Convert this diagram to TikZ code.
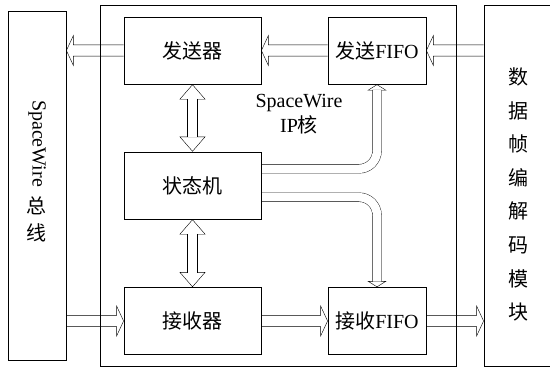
\documentclass[tikz,border=0pt]{standalone}
\usepackage{fontspec}
\setmainfont{Liberation Serif}
\newfontfamily\cjk{Noto Sans CJK SC}
\usetikzlibrary{arrows.meta, calc, backgrounds}

\tikzset{
  box/.style={draw, inner sep=0pt},
  blk/.style={box, minimum width=137pt, minimum height=67pt},
  fifo/.style={box, minimum width=98pt, minimum height=67pt},
  flat/.style={to path={
    let \p1=(\tikztostart), \p2=(\tikztotarget), \n1={sign(\x2-\x1)} in
    (\x1,{\y1+5.6pt}) -- ({\x2-\n1*7pt},{\y1+5.6pt}) -- ({\x2-\n1*7pt},{\y1+15pt})
    -- (\x2,\y1) -- ({\x2-\n1*7pt},{\y1-15pt}) -- ({\x2-\n1*7pt},{\y1-5.6pt}) -- (\x1,{\y1-5.6pt})}},
  tall/.style={{Triangle[length=15pt, width=26pt, fill=white]}-{Triangle[length=15pt, width=26pt, fill=white]}},
  tallbody/.style={double, double distance=9.5pt, shorten <=14.5pt, shorten >=14.5pt},
  elbowhead/.style={rounded corners=18pt, -{Triangle[length=6pt, width=19pt, fill=white]}},
  elbowbody/.style={rounded corners=18pt, double, double distance=8.5pt, shorten >=5.5pt},
}

\begin{document}
\begin{tikzpicture}[x=1pt, y=-1pt, line width=0.8pt, font=\fontsize{20}{25}\selectfont]
\useasboundingbox (0,0) rectangle (550,367);

% outer blocks
\node[box, minimum width=58pt, minimum height=349pt] (bus) at (37,185.5) {};
\node[rotate=-90] (buswire) at (37,143.5) {SpaceWire};
\node[font=\cjk\fontsize{20}{27}\selectfont, align=center] (busname) at (37,219) {总\\线};
\node[box, minimum width=68pt, minimum height=361pt] (data) at (518,185.5) {};
\node[font=\cjk\fontsize{20}{33.6}\selectfont, align=center] (dataname) at (518,194.5)
  {数\\据\\帧\\编\\解\\码\\模\\块};

% IP core blocks
\node[blk] (tx) at (192.5,50.5) {{\cjk 发送器}};
\node[fifo] (txf) at (377,50.5) {{\cjk 发送}FIFO};
\node[blk] (sm) at (192.5,185.5) {{\cjk 状态机}};
\node[blk] (rx) at (192.5,321) {{\cjk 接收器}};
\node[fifo] (rxf) at (377,321) {{\cjk 接收}FIFO};
\node[align=center] (corename) at (299,114) {SpaceWire\\IP{\cjk 核}};
\node[box, minimum width=356pt, minimum height=361pt] (core) at (278,185.5) {};

\begin{pgfonlayer}{background}
  \draw (tx.west) to[flat] (bus.east |- tx.west);
  \draw (txf.west) to[flat] (tx.east);
  \draw (data.west |- txf.east) to[flat] (txf.east);
  \draw (bus.east |- rx.west) to[flat] (rx.west);
  \draw (rx.east) to[flat] (rxf.west);
  \draw (rxf.east) to[flat] (data.west |- rxf.east);
  \foreach \a/\b in {tx.south/sm.north, sm.south/rx.north} {
    \draw[tall] (\a) -- (\b);
    \draw[tallbody] (\a) -- (\b);
  }
  \draw[elbowhead] ($(sm.east)+(0,-16.7)$) -| (txf.south);
  \draw[elbowbody] ($(sm.east)+(0,-16.7)$) -| (txf.south);
  \draw[elbowhead] ($(sm.east)+(0,11.7)$) -| (rxf.north);
  \draw[elbowbody] ($(sm.east)+(0,11.7)$) -| (rxf.north);
\end{pgfonlayer}
\end{tikzpicture}
\end{document}
